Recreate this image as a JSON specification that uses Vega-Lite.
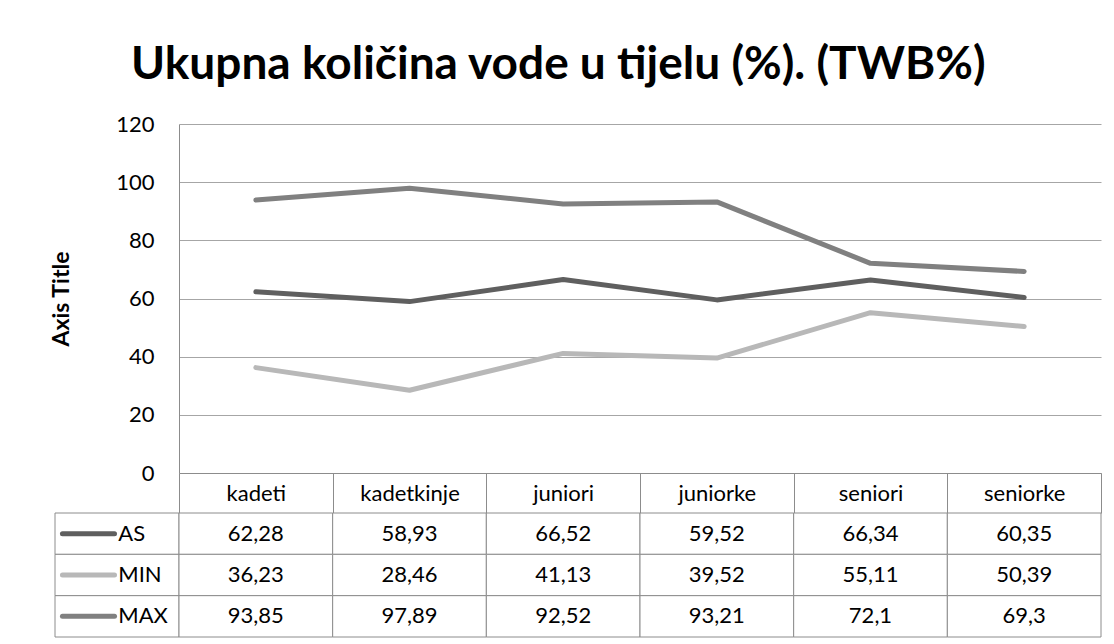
{
  "$schema": "https://vega.github.io/schema/vega-lite/v6.json",
  "padding": {"left": 50, "top": 42, "right": 0, "bottom": 0},
  "config": {
    "font": "Lato",
    "view": {"stroke": null},
    "locale": {"number": {"decimal": ",", "thousands": ".", "grouping": [3], "currency": ["", ""]}},
    "axis": {"labelColor": "#000000", "titleColor": "#000000"}
  },
  "datasets": {
    "twb": [
      {"category": "kadeti", "series": "AS", "value": 62.28},
      {"category": "kadetkinje", "series": "AS", "value": 58.93},
      {"category": "juniori", "series": "AS", "value": 66.52},
      {"category": "juniorke", "series": "AS", "value": 59.52},
      {"category": "seniori", "series": "AS", "value": 66.34},
      {"category": "seniorke", "series": "AS", "value": 60.35},
      {"category": "kadeti", "series": "MIN", "value": 36.23},
      {"category": "kadetkinje", "series": "MIN", "value": 28.46},
      {"category": "juniori", "series": "MIN", "value": 41.13},
      {"category": "juniorke", "series": "MIN", "value": 39.52},
      {"category": "seniori", "series": "MIN", "value": 55.11},
      {"category": "seniorke", "series": "MIN", "value": 50.39},
      {"category": "kadeti", "series": "MAX", "value": 93.85},
      {"category": "kadetkinje", "series": "MAX", "value": 97.89},
      {"category": "juniori", "series": "MAX", "value": 92.52},
      {"category": "juniorke", "series": "MAX", "value": 93.21},
      {"category": "seniori", "series": "MAX", "value": 72.1},
      {"category": "seniorke", "series": "MAX", "value": 69.3}
    ],
    "series": [{"series": "AS"}, {"series": "MIN"}, {"series": "MAX"}]
  },
  "title": {
    "text": "Ukupna količina vode u tijelu (%). (TWB%)",
    "fontSize": 46,
    "fontWeight": "bold",
    "font": "Lato",
    "anchor": "start",
    "frame": "group",
    "dx": 76,
    "offset": 24,
    "color": "#000000"
  },
  "columns": 2,
  "spacing": {"row": 40, "column": 0},
  "bounds": "flush",
  "concat": [
    {
      "width": 124,
      "height": 349,
      "data": {"name": "series"},
      "mark": {"type": "text", "text": ""},
      "encoding": {}
    },
    {
      "width": 922,
      "height": 349,
      "data": {"name": "twb"},
      "mark": {"type": "line", "strokeWidth": 5, "strokeCap": "round", "strokeJoin": "round"},
      "encoding": {
        "x": {
          "field": "category",
          "type": "nominal",
          "sort": ["kadeti", "kadetkinje", "juniori", "juniorke", "seniori", "seniorke"],
          "bandPosition": 0.5,
          "scale": {"type": "band", "paddingInner": 0, "paddingOuter": 0},
          "axis": {
            "title": null,
            "labelAngle": 0,
            "tickBand": "extent",
            "tickExtra": true,
            "tickSize": 40,
            "tickColor": "#8c8c8c",
            "domainColor": "#8c8c8c",
            "labelPadding": -20,
            "labelBaseline": "middle",
            "labelFontSize": 22,
            "grid": false
          }
        },
        "y": {
          "field": "value",
          "type": "quantitative",
          "scale": {"domain": [0, 120], "nice": false},
          "axis": {
            "values": [0, 20, 40, 60, 80, 100, 120],
            "format": "d",
            "title": "Axis Title",
            "titleFontSize": 23,
            "titleFontWeight": "bold",
            "titlePadding": 42,
            "grid": true,
            "gridColor": "#a6a6a6",
            "ticks": false,
            "domainColor": "#8c8c8c",
            "labelPadding": 25,
            "labelFontSize": 22
          }
        },
        "color": {
          "field": "series",
          "type": "nominal",
          "scale": {"domain": ["AS", "MIN", "MAX"], "range": ["#5f5f5f", "#b8b8b8", "#808080"]},
          "legend": null
        }
      }
    },
    {
      "width": 124,
      "height": 124,
      "data": {"name": "series"},
      "layer": [
        {
          "mark": {"type": "rect", "fill": "#ffffff", "stroke": "#8c8c8c", "strokeWidth": 1},
          "encoding": {
            "y": {"field": "series", "type": "nominal", "sort": ["AS", "MIN", "MAX"], "scale": {"paddingInner": 0, "paddingOuter": 0}, "axis": null},
            "x": {"datum": 0, "type": "quantitative", "scale": {"domain": [0, 1], "nice": false}, "axis": null},
            "x2": {"datum": 1}
          }
        },
        {
          "mark": {"type": "rule", "strokeWidth": 5, "strokeCap": "round"},
          "encoding": {
            "y": {"field": "series", "type": "nominal", "sort": ["AS", "MIN", "MAX"], "bandPosition": 0.5, "axis": null},
            "x": {"datum": 0.06, "type": "quantitative", "axis": null},
            "x2": {"datum": 0.48},
            "color": {
              "field": "series",
              "type": "nominal",
              "scale": {"domain": ["AS", "MIN", "MAX"], "range": ["#5f5f5f", "#b8b8b8", "#808080"]},
              "legend": null
            }
          }
        },
        {
          "mark": {"type": "text", "align": "left", "baseline": "middle", "fontSize": 22, "color": "#000000"},
          "encoding": {
            "y": {"field": "series", "type": "nominal", "sort": ["AS", "MIN", "MAX"], "bandPosition": 0.5, "axis": null},
            "x": {"datum": 0.51, "type": "quantitative", "axis": null},
            "text": {"field": "series", "type": "nominal"}
          }
        }
      ]
    },
    {
      "width": 922,
      "height": 124,
      "data": {"name": "twb"},
      "layer": [
        {
          "mark": {"type": "rect", "fill": "#ffffff", "stroke": "#8c8c8c", "strokeWidth": 1},
          "encoding": {
            "x": {"field": "category", "type": "nominal", "sort": ["kadeti", "kadetkinje", "juniori", "juniorke", "seniori", "seniorke"], "scale": {"paddingInner": 0, "paddingOuter": 0}, "axis": null},
            "y": {"field": "series", "type": "nominal", "sort": ["AS", "MIN", "MAX"], "scale": {"paddingInner": 0, "paddingOuter": 0}, "axis": null}
          }
        },
        {
          "mark": {"type": "text", "baseline": "middle", "fontSize": 22, "color": "#000000"},
          "encoding": {
            "x": {"field": "category", "type": "nominal", "sort": ["kadeti", "kadetkinje", "juniori", "juniorke", "seniori", "seniorke"], "bandPosition": 0.5, "axis": null},
            "y": {"field": "series", "type": "nominal", "sort": ["AS", "MIN", "MAX"], "bandPosition": 0.5, "axis": null},
            "text": {"field": "value", "type": "quantitative", "format": ".2~f"}
          }
        }
      ]
    }
  ]
}
